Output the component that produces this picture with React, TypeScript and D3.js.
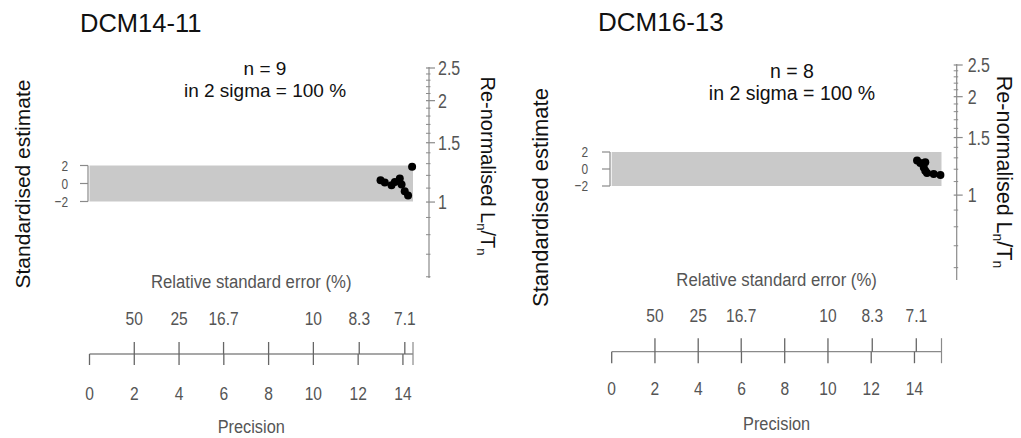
import React from "react";
import * as d3 from "d3";

// ---------- data ----------
const panelTitles = ["DCM14-11", "DCM16-13"];
const panelN = [9, 8];
const panelInTwoSigma = [100, 100];

const leftPrecision = [13.0, 13.19, 13.49, 13.64, 13.86, 13.94, 14.08, 14.23, 14.41];
const leftStd = [0.37, 0.11, -0.2, 0.17, 0.56, -0.12, -0.87, -1.32, 1.86];
const rightPrecision = [14.12, 14.27, 14.5, 14.43, 14.5, 14.58, 14.89, 15.2];
const rightStd = [1.0, 0.72, 0.79, 0.19, -0.2, -0.48, -0.6, -0.72];

const precisionTicks = [0, 2, 4, 6, 8, 10, 12, 14];
const rseTicks = [50, 25, 16.7, 12.5, 10, 8.3, 7.1];
const rseTickLabels = ["50", "25", "16.7", "", "10", "8.3", "7.1"];
const stdTicks = [2, 0, -2];
const ratioMajorTicks = [1, 1.5, 2, 2.5];
const ratioMajorLabels = ["1", "1.5", "2", "2.5"];
const ratioMinorTicks = [0.6, 0.7, 0.8, 0.9, 1.1, 1.2, 1.3, 1.4, 1.6, 1.7, 1.8, 1.9, 2.1, 2.2, 2.3, 2.4];

// ---------- layout ----------
const layouts = [
  {
    precMax: 14.45, x0: 89.5, x1: 413, yTop: 165.5, yBot: 201.5,
    stdAxisX: 88, stdLabelX: 68,
    ratioX: 429, ratioTop: 68, ratioBot: 278, ratioMin: 0.595, ratioLabelDx: 9,
    ratioTitleX: 481, ratioTitleY: 166, ratioTitleSize: 20,
    stdTitleX: 30, stdTitleY: 184, stdTitleSize: 21,
    titleX: 80, titleY: 31.5, titleSize: 25.5,
    statsX: 265, nY: 75, sigmaY: 97, statsSize: 19,
    rseTitleY: 288, rseLabelY: 325, axisY: 354, tickUp: 12, tickDown: 11,
    precLabelY: 400, precTitleY: 433,
  },
  {
    precMax: 15.25, x0: 611.7, x1: 941.5, yTop: 152, yBot: 186,
    stdAxisX: 610, stdLabelX: 588,
    ratioX: 956.7, ratioTop: 65, ratioBot: 280, ratioMin: 0.55, ratioLabelDx: 11,
    ratioTitleX: 997, ratioTitleY: 172, ratioTitleSize: 21.5,
    stdTitleX: 548, stdTitleY: 197.5, stdTitleSize: 22,
    titleX: 598, titleY: 31, titleSize: 26,
    statsX: 792, nY: 78, sigmaY: 100, statsSize: 19.5,
    rseTitleY: 286, rseLabelY: 322, axisY: 351.7, tickUp: 13.5, tickDown: 11.5,
    precLabelY: 395, precTitleY: 430,
  },
];

const FONT = "'Liberation Sans', Arial, Helvetica, sans-serif";
const AXIS_TEXT = "#555";
const AXIS_LINE = "#8a8a8a";

function CText({ x, y, size, sx = 1, sy = 1, anchor = "middle", fill = "#000", children }: any) {
  return (
    <text
      transform={`translate(${x},${y}) scale(${sx},${sy})`}
      fontSize={size}
      textAnchor={anchor}
      fill={fill}
    >
      {children}
    </text>
  );
}

function Panel({ idx, precision, std }: { idx: number; precision: number[]; std: number[] }) {
  const L = layouts[idx];
  const x = d3.scaleLinear().domain([0, L.precMax]).range([L.x0, L.x1]);
  const y = d3.scaleLinear().domain([-2, 2]).range([L.yBot, L.yTop]);
  const r = d3.scaleLog().domain([L.ratioMin, 2.5]).range([L.ratioBot, L.ratioTop]);
  const pts = precision.map((p, i) => ({ p, s: std[i] }));

  return (
    <g fontFamily={FONT}>
      {/* panel title */}
      <text x={L.titleX} y={L.titleY} fontSize={L.titleSize} fill="#111">{panelTitles[idx]}</text>

      {/* stats */}
      <text x={L.statsX} y={L.nY} fontSize={L.statsSize} textAnchor="middle" fill="#111">{`n = ${panelN[idx]}`}</text>
      <text x={L.statsX} y={L.sigmaY} fontSize={L.statsSize} textAnchor="middle" fill="#111">{`in 2 sigma = ${panelInTwoSigma[idx]} %`}</text>

      {/* 2-sigma band */}
      <rect x={x(0)} y={y(2)} width={x(L.precMax) - x(0)} height={y(-2) - y(2)} fill="#c9c9c9" />

      {/* standardised axis */}
      <line x1={L.stdAxisX} x2={L.stdAxisX} y1={y(2)} y2={y(-2)} stroke={AXIS_LINE} strokeWidth={1.2} />
      {stdTicks.map((t) => (
        <g key={t}>
          <line x1={L.stdAxisX - 8} x2={L.stdAxisX} y1={y(t)} y2={y(t)} stroke={AXIS_LINE} strokeWidth={1.2} />
          <CText x={L.stdLabelX} y={y(t) + 5} size={14} sx={0.85} sy={1.1} anchor="end" fill={AXIS_TEXT}>
            {t < 0 ? `\u2212${Math.abs(t)}` : `${t}`}
          </CText>
        </g>
      ))}
      <text
        transform={`translate(${L.stdTitleX},${L.stdTitleY}) rotate(-90)`}
        fontSize={L.stdTitleSize}
        textAnchor="middle"
        fill="#111"
      >
        Standardised estimate
      </text>

      {/* ratio (z) axis */}
      <line x1={L.ratioX} x2={L.ratioX} y1={L.ratioTop - 1} y2={L.ratioBot} stroke={AXIS_LINE} strokeWidth={1.2} />
      {ratioMinorTicks.map((t) => (
        <line key={t} x1={L.ratioX - 3} x2={L.ratioX + 1.5} y1={r(t)} y2={r(t)} stroke={AXIS_LINE} strokeWidth={1} />
      ))}
      {ratioMajorTicks.map((t, i) => (
        <g key={t}>
          <line x1={L.ratioX - 3} x2={L.ratioX + 6} y1={r(t)} y2={r(t)} stroke={AXIS_LINE} strokeWidth={1.2} />
          <CText x={L.ratioX + L.ratioLabelDx} y={r(t) + 7} size={20} sx={0.8} anchor="start" fill={AXIS_TEXT}>
            {ratioMajorLabels[i]}
          </CText>
        </g>
      ))}
      <text
        transform={`translate(${L.ratioTitleX},${L.ratioTitleY}) rotate(90)`}
        fontSize={L.ratioTitleSize}
        textAnchor="middle"
        fill="#111"
      >
        Re-normalised L<tspan dy={4} fontSize={L.ratioTitleSize * 0.65}>n</tspan>
        <tspan dy={-4}>/T</tspan>
        <tspan dy={4} fontSize={L.ratioTitleSize * 0.65}>n</tspan>
      </text>

      {/* points */}
      {pts.map((d, i) => (
        <circle key={i} cx={x(d.p)} cy={y(d.s)} r={4} fill="#000" />
      ))}

      {/* bottom combined axis */}
      <CText x={(L.x0 + L.x1) / 2} y={L.rseTitleY} size={19} sx={0.88} fill={AXIS_TEXT}>
        Relative standard error (%)
      </CText>
      <line x1={x(0)} x2={x(L.precMax)} y1={L.axisY} y2={L.axisY} stroke={AXIS_LINE} strokeWidth={1.3} />
      {rseTicks.map((t, i) => (
        <g key={`rse${t}`}>
          <line x1={x(100 / t)} x2={x(100 / t)} y1={L.axisY - L.tickUp} y2={L.axisY} stroke="#666" strokeWidth={1.3} />
          <CText x={x(100 / t)} y={L.rseLabelY} size={19} sx={0.82} fill={AXIS_TEXT}>
            {rseTickLabels[i]}
          </CText>
        </g>
      ))}
      {precisionTicks.map((t) => (
        <g key={`p${t}`}>
          <line x1={x(t)} x2={x(t)} y1={L.axisY} y2={L.axisY + L.tickDown} stroke="#666" strokeWidth={1.3} />
          <CText x={x(t)} y={L.precLabelY} size={19} sx={0.82} fill={AXIS_TEXT}>
            {`${t}`}
          </CText>
        </g>
      ))}
      <line x1={x(L.precMax)} x2={x(L.precMax)} y1={L.axisY - L.tickUp} y2={L.axisY + L.tickDown} stroke={AXIS_LINE} strokeWidth={1.2} />
      <CText x={(L.x0 + L.x1) / 2} y={L.precTitleY} size={19} sx={0.86} fill={AXIS_TEXT}>
        Precision
      </CText>
    </g>
  );
}

export default function App() {
  return (
    <svg
      width={1021}
      height={438}
      style={{ position: "absolute", left: 0, top: 0, background: "#fff" }}
    >
      <rect width={1021} height={438} fill="#fff" />
      <Panel idx={0} precision={leftPrecision} std={leftStd} />
      <Panel idx={1} precision={rightPrecision} std={rightStd} />
    </svg>
  );
}
